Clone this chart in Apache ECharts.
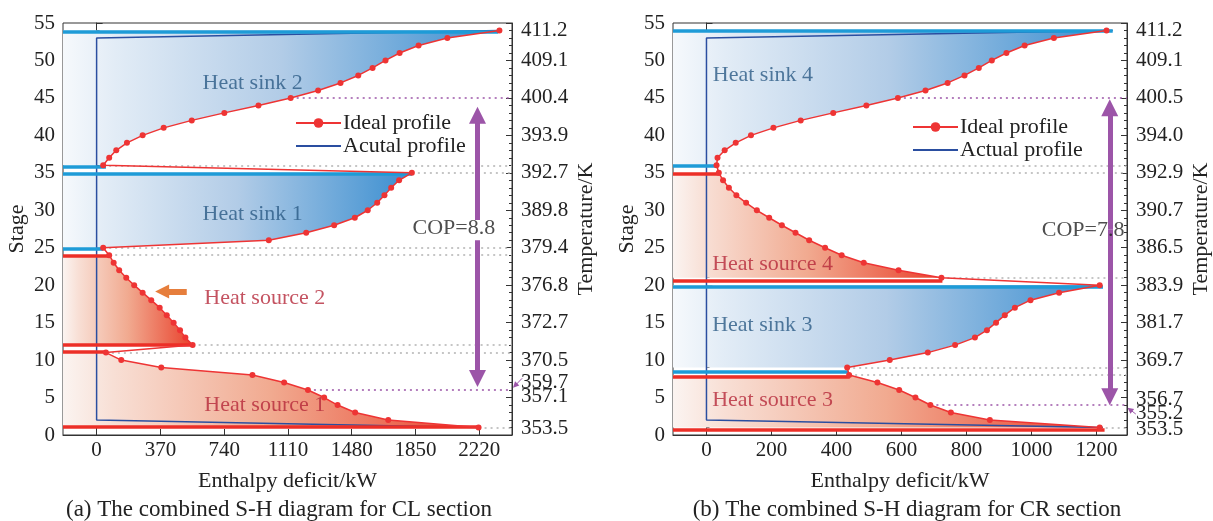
<!doctype html>
<html>
<head>
  <meta charset="utf-8">
  <script src="https://cdn.jsdelivr.net/npm/echarts@6/dist/echarts.min.js"></script>
  <style>
    html, body { margin: 0; width: 100%; height: 100%; background: #fff; }
    #main { width: 1213px; height: 521px; }
  </style>
</head>
<body>
<div id="main"></div>
<script>
  // ===== (a) CL section =====
  var hTicksA = [0, 370, 740, 1110, 1480, 1850, 2220];
  var tempStageA = [54, 50, 45, 40, 35, 30, 25, 20, 15, 10, 7.0, 5.1, 0.9];
  var tempLabelA = ['411.2', '409.1', '400.4', '393.9', '392.7', '389.8', '379.4', '376.8', '372.7', '370.5', '359.7', '357.1', '353.5'];
  // ideal profile points [enthalpy kW, stage]
  var source1A = [[2216, 1], [1692, 2], [1500, 3], [1398, 4], [1320, 5], [1226, 6], [1088, 7], [904, 8], [375, 9], [143, 10], [54, 11]];
  var source2A = [[557, 12], [515, 13], [484, 14], [447, 15], [407, 16], [366, 17], [317, 18], [267, 19], [218, 20], [172, 21], [131, 22], [99, 23], [73, 24]];
  var sink1A = [[38, 25], [999, 26], [1216, 27], [1378, 28], [1498, 29], [1573, 30], [1628, 31], [1670, 32], [1709, 33], [1755, 34], [1829, 35]];
  var sink2A = [[38, 36], [73, 37], [114, 38], [176, 39], [267, 40], [389, 41], [552, 42], [741, 43], [939, 44], [1126, 45], [1285, 46],
    [1415, 47], [1518, 48], [1601, 49], [1676, 50], [1758, 51], [1868, 52], [2035, 53], [2337, 54]];
  var actualA = [[2337, 54], [0, 53], [0, 2], [2216, 1]];
  // heat sink / heat source levels [stage, end enthalpy]
  var sinkBarsA = [[53.8, 2330], [35.85, 54], [34.9, 1829], [24.85, 38]];
  var sourceBarsA = [[23.9, 77], [12, 552], [11.05, 58], [1.1, 2216]];
  var guideA = [[36, 38], [35, 1829], [25, 38], [24, 73], [12, 557], [11, 54], [1, 2216]];
  var copGuideA = [[45, 1126], [6, 1226]];

  // ===== (b) CR section =====
  var hTicksB = [0, 200, 400, 600, 800, 1000, 1200];
  var tempStageB = [54, 50, 45, 40, 35, 30, 25, 20, 15, 10, 4.7, 2.9, 0.7];
  var tempLabelB = ['411.2', '409.1', '400.5', '394.0', '392.9', '390.7', '386.5', '383.9', '381.7', '369.7', '356.7', '355.2', '353.5'];
  var source3B = [[1210, 1], [872, 2], [752, 3], [689, 4], [643, 5], [593, 6], [526, 7], [439, 8]];
  var sink3B = [[433, 9], [564, 10], [681, 11], [765, 12], [826, 13], [863, 14], [891, 15], [918, 16], [949, 17], [997, 18], [1085, 19], [1210, 20]];
  var source4B = [[723, 21], [591, 22], [484, 23], [416, 24], [365, 25], [316, 26], [274, 27], [232, 28], [193, 29], [155, 30], [122, 31],
    [92, 32], [69, 33], [51, 34], [38, 35]];
  var sink4B = [[31, 36], [34, 37], [56, 38], [90, 39], [137, 40], [206, 41], [290, 42], [390, 43], [492, 44], [589, 45], [674, 46],
    [742, 47], [794, 48], [838, 49], [878, 50], [923, 51], [979, 52], [1069, 53], [1231, 54]];
  var actualB = [[1250, 54], [0, 53], [0, 2], [1220, 1]];
  var sinkBarsB = [[53.9, 1250], [35.94, 31], [19.73, 1220], [8.46, 436]];
  var sourceBarsB = [[34.9, 41], [20.6, 726], [7.8, 441], [0.76, 1225]];
  var guideB = [[36, 31], [35, 38], [21, 723], [9, 433], [8, 439], [1, 1210]];
  var copGuideB = [[45, 589], [4, 689]];

  var SERIF = "'Liberation Serif', 'Times New Roman', serif";
  var BLUE_BAR = '#1e9bd7', RED_BAR = '#ec2f27', IDEAL = '#ee3434', ACTUAL = '#2a4ea0',
    PURPLE = '#9c55a8', GUIDE = '#b3b3b3', SINK_TXT = '#2b5a85', SRC_TXT = '#b5283a';

  var panels = [{
    xMin: -195, xMax: 2410, ticks: hTicksA, tStage: tempStageA, tLabel: tempLabelA,
    ideal: source1A.concat(source2A, sink1A, sink2A),
    regions: [[sink2A, 'sink'], [sink1A, 'sink'], [source2A, 'src'], [source1A, 'src']],
    actual: actualA, actualName: 'Acutal profile',
    sinkBars: sinkBarsA, sourceBars: sourceBarsA, guides: guideA, copGuides: copGuideA,
    texts: [['Heat sink 2', 612, 47.0, SINK_TXT], ['Heat sink 1', 612, 29.5, SINK_TXT],
      ['Heat source 2', 622, 18.3, SRC_TXT], ['Heat source 1', 622, 4.0, SRC_TXT], ['COP=8.8', 1830, 27.65, '#222']],
    arrows: [[[2210, 28.7], [2210, 42.7]], [[2210, 26.0], [2210, 7.55]]],
    orange: [[[523, 19.15], [380, 19.15]]],
    pointer: [[2469, 7.57], [2428, 6.6]],
    caption: '(a) The combined S-H diagram for CL section', captionX: 279,
    grid: { left: 63, right: 701 }, legendLeft: 290, legendTop: 107
  }, {
    xMin: -103, xMax: 1294, ticks: hTicksB, tStage: tempStageB, tLabel: tempLabelB,
    ideal: source3B.concat(sink3B, source4B, sink4B),
    regions: [[sink4B, 'sink'], [sink3B, 'sink'], [source4B, 'src'], [source3B, 'src']],
    actual: actualB, actualName: 'Actual profile',
    sinkBars: sinkBarsB, sourceBars: sourceBarsB, guides: guideB, copGuides: copGuideB,
    texts: [['Heat sink 4', 18, 48.0, SINK_TXT], ['Heat source 4', 16, 22.8, SRC_TXT],
      ['Heat sink 3', 16, 14.6, SINK_TXT], ['Heat source 3', 16, 4.6, SRC_TXT], ['COP=7.8', 1030, 27.4, '#222']],
    arrows: [[[1241, 27.4], [1241, 43.7]], [[1241, 27.4], [1241, 5.1]]],
    orange: [],
    pointer: [[1321, 2.8], [1303, 3.4]],
    caption: '(b) The combined S-H diagram for CR section', captionX: 907,
    grid: { left: 673, right: 86 }, legendLeft: 907, legendTop: 111
  }];

  function blueFill() {
    return new echarts.graphic.LinearGradient(0, 0, 1, 0, [
      { offset: 0, color: '#f6f9fc' }, { offset: 0.12, color: '#e2ecf6' }, { offset: 0.5, color: '#b2cce7' }, { offset: 1, color: '#3a8ed0' }]);
  }
  function redFill() {
    return new echarts.graphic.LinearGradient(0, 0, 1, 0, [
      { offset: 0, color: '#fbf4f1' }, { offset: 0.12, color: '#f8dfd5' }, { offset: 0.5, color: '#f1aa90' }, { offset: 1, color: '#e9412c' }]);
  }

  var grids = [], xAxes = [], yAxes = [], series = [], legends = [], graphics = [];
  var labelFont = { fontFamily: SERIF, fontSize: 21, color: '#222' };
  var nameFont = { fontFamily: SERIF, fontSize: 22, color: '#222' };

  // right-hand temperature labels; split over two axes so close labels are not dropped
  function tempAxis(p, k, part, withLine) {
    var vals = p.tStage.filter(function (v, i) { return i % 2 === part; });
    return {
      type: 'value', gridIndex: k, min: 0, max: 55, interval: 5, position: 'right',
      name: withLine ? 'Temperature/K' : '', nameLocation: 'middle', nameGap: 63, nameRotate: 90, nameTextStyle: nameFont,
      axisLine: { show: withLine, lineStyle: { color: '#333' } },
      axisTick: { show: withLine, inside: true, length: 6, lineStyle: { color: '#333' } },
      minorTick: { show: withLine, splitNumber: 5, length: 3, lineStyle: { color: '#333' } },
      axisLabel: Object.assign({
        margin: 9, customValues: vals, hideOverlap: false, showMinLabel: true, showMaxLabel: true,
        formatter: function (v) { var i = p.tStage.indexOf(v); return i < 0 ? '' : p.tLabel[i]; }
      }, labelFont),
      splitLine: { show: false }
    };
  }

  panels.forEach(function (p, k) {
    grids.push({ left: p.grid.left, right: p.grid.right, top: 23, bottom: 86, show: true, borderColor: '#333', borderWidth: 1 });
    xAxes.push({
      type: 'value', gridIndex: k, min: p.xMin, max: p.xMax,
      name: 'Enthalpy deficit/kW', nameLocation: 'middle', nameGap: 35, nameTextStyle: nameFont,
      axisLine: { lineStyle: { color: '#333' } },
      axisTick: { inside: true, length: 6, customValues: p.ticks, lineStyle: { color: '#333' } },
      axisLabel: Object.assign({ customValues: p.ticks, margin: 5, formatter: function (v) { return String(v); } }, labelFont),
      splitLine: { show: false }
    });
    yAxes.push({
      type: 'value', gridIndex: k, min: 0, max: 55, interval: 5, position: 'left',
      name: 'Stage', nameLocation: 'middle', nameGap: 35, nameRotate: 90, nameTextStyle: nameFont,
      axisLine: { show: true, lineStyle: { color: '#333' } },
      axisTick: { inside: true, length: 6, lineStyle: { color: '#333' } },
      minorTick: { show: true, splitNumber: 5, length: 3, lineStyle: { color: '#333' } },
      axisLabel: Object.assign({ margin: 8 }, labelFont),
      splitLine: { show: false }
    });
    yAxes.push(tempAxis(p, k, 0, true));
    yAxes.push(tempAxis(p, k, 1, false));
    var yi = k * 3;

    // gradient areas between the plot edge and the ideal profile
    series.push({
      type: 'custom', xAxisIndex: k, yAxisIndex: yi, z: 1, silent: true,
      data: p.regions.map(function (r) { return r[0][0]; }),
      renderItem: function (params, api) {
        var r = p.regions[params.dataIndex], pts = r[0];
        var poly = [[p.xMin, pts[0][1]]].concat(pts, [[p.xMin, pts[pts.length - 1][1]]]);
        return {
          type: 'polygon',
          shape: { points: poly.map(function (q) { return api.coord(q); }) },
          style: { fill: r[1] === 'sink' ? blueFill() : redFill() }
        };
      }
    });

    // dotted guides
    var guideData = p.guides.map(function (g) {
      return { coords: [[g[1], g[0]], [p.xMax, g[0]]], lineStyle: { color: GUIDE } };
    }).concat(p.copGuides.map(function (g) {
      return { coords: [[g[1], g[0]], [p.xMax, g[0]]], lineStyle: { color: PURPLE } };
    }));
    series.push({
      type: 'lines', coordinateSystem: 'cartesian2d', xAxisIndex: k, yAxisIndex: yi, z: 2, silent: true,
      lineStyle: { width: 1.5, type: [2, 4], opacity: 1 },
      data: guideData
    });

    // actual profile
    series.push({
      type: 'line', name: p.actualName, xAxisIndex: k, yAxisIndex: yi, z: 3,
      data: p.actual, symbol: 'none', showSymbol: false,
      lineStyle: { color: ACTUAL, width: 1.5 }, itemStyle: { color: ACTUAL }
    });

    // sink / source levels
    var barData = p.sinkBars.map(function (b) {
      return { coords: [[p.xMin, b[0]], [b[1], b[0]]], lineStyle: { color: BLUE_BAR } };
    }).concat(p.sourceBars.map(function (b) {
      return { coords: [[p.xMin, b[0]], [b[1], b[0]]], lineStyle: { color: RED_BAR } };
    }));
    series.push({
      type: 'lines', coordinateSystem: 'cartesian2d', xAxisIndex: k, yAxisIndex: yi, z: 4, silent: true,
      lineStyle: { width: 3.5, opacity: 1 },
      data: barData
    });

    // ideal profile
    series.push({
      type: 'line', name: 'Ideal profile', xAxisIndex: k, yAxisIndex: yi, z: 5,
      data: p.ideal, symbol: 'circle', symbolSize: 6,
      lineStyle: { color: IDEAL, width: 1.5 }, itemStyle: { color: IDEAL }
    });

    // COP arrows
    series.push({
      type: 'lines', coordinateSystem: 'cartesian2d', xAxisIndex: k, yAxisIndex: yi, z: 6, silent: true,
      symbol: ['none', 'triangle'], symbolSize: 17,
      lineStyle: { color: PURPLE, width: 5, opacity: 1 },
      data: p.arrows.map(function (a) { return { coords: a }; })
    });
    series.push({
      type: 'lines', coordinateSystem: 'cartesian2d', xAxisIndex: k, yAxisIndex: yi, z: 6, silent: true, clip: false,
      symbol: ['none', 'triangle'], symbolSize: 6,
      lineStyle: { color: PURPLE, width: 1, opacity: 1 },
      data: [{ coords: p.pointer }]
    });
    if (p.orange.length) {
      series.push({
        type: 'lines', coordinateSystem: 'cartesian2d', xAxisIndex: k, yAxisIndex: yi, z: 6, silent: true,
        symbol: ['none', 'triangle'], symbolSize: 14,
        lineStyle: { color: '#e67e3c', width: 6, opacity: 1 },
        data: p.orange.map(function (a) { return { coords: a }; })
      });
    }

    // region names
    series.push({
      type: 'scatter', xAxisIndex: k, yAxisIndex: yi, z: 7, silent: true,
      symbolSize: 1, itemStyle: { color: 'rgba(0,0,0,0)' },
      label: { show: true, position: 'right', distance: 0, formatter: '{b}', fontFamily: SERIF, fontSize: 22 },
      data: p.texts.map(function (t) { return { name: t[0], value: [t[1], t[2]], label: { color: t[3] } }; })
    });

    legends.push({
      left: p.legendLeft, top: p.legendTop, orient: 'vertical', itemWidth: 45, itemHeight: 12, itemGap: 1,
      data: ['Ideal profile', { name: p.actualName, itemStyle: { opacity: 0 } }],
      textStyle: { fontFamily: SERIF, fontSize: 22, color: '#222', padding: [0, 0, 0, -3] }
    });

    graphics.push({
      type: 'text', x: p.captionX, y: 510,
      style: { text: p.caption, font: '23px ' + SERIF, fill: '#222', align: 'center', verticalAlign: 'middle' }
    });
  });

  var chart = echarts.init(document.getElementById('main'));
  chart.setOption({
    animation: false,
    backgroundColor: '#fff',
    grid: grids, xAxis: xAxes, yAxis: yAxes, legend: legends,
    graphic: graphics,
    series: series
  });
</script>
</body>
</html>
